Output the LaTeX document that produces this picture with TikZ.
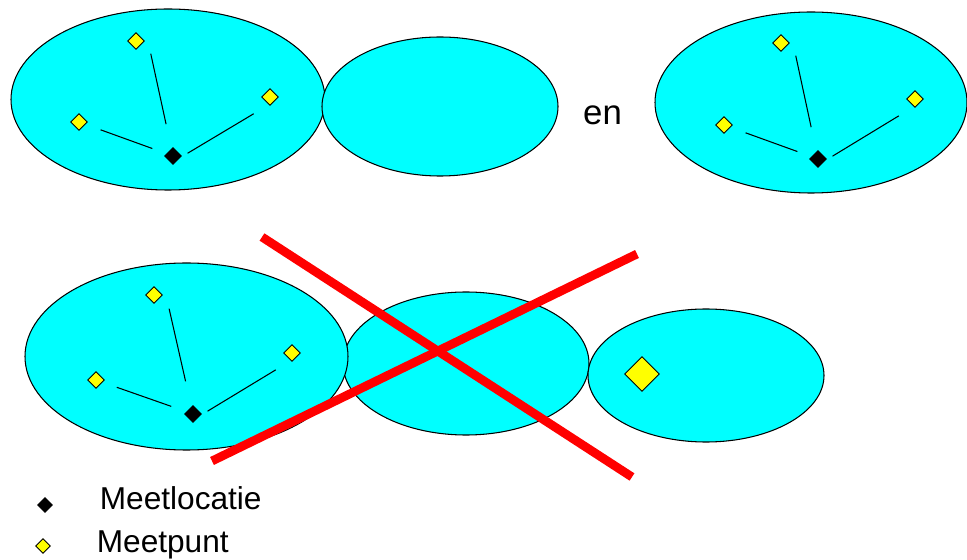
\documentclass[tikz,border=0pt]{standalone}
\usepackage{fontspec}
\setmainfont{Liberation Sans}
\usepackage{tikz}
\usetikzlibrary{shapes.geometric, positioning}
\definecolor{gebiedCyaan}{HTML}{00FFFF}
\definecolor{puntGeel}{HTML}{FFFF00}
\definecolor{kruisRood}{HTML}{FF0000}
\newcommand{\pix}{0.02cm}

\begin{document}
\begin{tikzpicture}[x=0.02cm, y=-0.02cm,
    gebied/.style={ellipse, draw=black, line width=0.6pt, fill=gebiedCyaan, inner sep=0pt},
    meetpunt/.style={diamond, draw=black, line width=0.5pt, fill=puntGeel, inner sep=0pt, minimum size=17*\pix},
    meetlocatie/.style={diamond, draw=black, line width=0.5pt, fill=black, inner sep=0pt, minimum size=17*\pix},
    link/.style={draw=black, line width=0.6pt},
    kruis/.style={draw=kruisRood, line width=5pt}]
    \useasboundingbox (0,0) rectangle (967,560);

    % Gebieden (ellipsen)
    \node[gebied, minimum width=314*\pix, minimum height=181*\pix] (g1) at (168,99.5) {};
    \node[gebied, minimum width=236*\pix, minimum height=139*\pix] (g2) at (440,106.5) {};
    \node[gebied, minimum width=312*\pix, minimum height=181*\pix] (g3) at (811,102.5) {};
    \node[gebied, minimum width=246*\pix, minimum height=143*\pix] (g5) at (466,363.5) {};
    \node[gebied, minimum width=323*\pix, minimum height=187*\pix] (g4) at (186.5,356.5) {};
    \node[gebied, minimum width=236*\pix, minimum height=133*\pix] (g6) at (706,375.5) {};

    % 1. Meetlocatie met drie meetpunten (links boven)
    \node[meetlocatie] (m1) at (173,156) {};
    \node[meetpunt] (pt1) at (136,41) {};
    \node[meetpunt] (pl1) at (79,122) {};
    \node[meetpunt] (pr1) at (270,97) {};
    \draw[link, shorten <=13*\pix, shorten >=25*\pix] ([xshift=12*\pix]pt1.center) -- (m1);
    \draw[link, shorten <=16*\pix, shorten >=15*\pix] (pl1) -- (m1);
    \draw[link, shorten <=19*\pix, shorten >=17*\pix] ([yshift=-7*\pix]pr1.center) -- ([yshift=-6*\pix]m1.center);

    % "en"
    \node[font=\fontsize{19.8}{24}\selectfont, inner sep=0pt] (en) at (602.5,115.5) {en};

    % 2. Meetlocatie met drie meetpunten (rechts boven)
    \node[meetlocatie] (m3) at (818,159) {};
    \node[meetpunt] (pt3) at (781,43) {};
    \node[meetpunt] (pl3) at (724,125) {};
    \node[meetpunt] (pr3) at (915,99) {};
    \draw[link, shorten <=13*\pix, shorten >=25*\pix] ([xshift=12*\pix]pt3.center) -- (m3);
    \draw[link, shorten <=16*\pix, shorten >=15*\pix] (pl3) -- (m3);
    \draw[link, shorten <=19*\pix, shorten >=17*\pix] ([yshift=-7*\pix]pr3.center) -- ([yshift=-6*\pix]m3.center);

    % 3. Meetlocatie met drie meetpunten (links onder)
    \node[meetlocatie] (m4) at (193,414) {};
    \node[meetpunt] (pt4) at (154,295) {};
    \node[meetpunt] (pl4) at (96,380) {};
    \node[meetpunt] (pr4) at (292,353) {};
    \draw[link, shorten <=14*\pix, shorten >=26*\pix] ([xshift=12*\pix]pt4.center) -- (m4);
    \draw[link, shorten <=15*\pix, shorten >=16*\pix] (pl4) -- (m4);
    \draw[link, shorten <=19*\pix, shorten >=17*\pix] ([yshift=-7*\pix]pr4.center) -- ([yshift=-6*\pix]m4.center);

    % Los meetpunt (rechts onder)
    \node[meetpunt, minimum size=35*\pix] (groot) at (642,374) {};

    % Rood kruis
    \draw[kruis] (262,237) -- (632,477);
    \draw[kruis] (212,461) -- (637,254);

    % Legenda
    \node[meetlocatie, minimum size=15*\pix] (lm) at (45,505) {};
    \node[meetpunt, minimum size=15*\pix] (lp) at (43,546) {};
    \node[anchor=base west, inner sep=0pt, font=\fontsize{18}{22}\selectfont] (tm) at (99.5,509) {Meetlocatie};
    \node[anchor=base west, inner sep=0pt, font=\fontsize{18}{22}\selectfont] (tp) at (96.5,552.5) {Meetpunt};
\end{tikzpicture}
\end{document}
